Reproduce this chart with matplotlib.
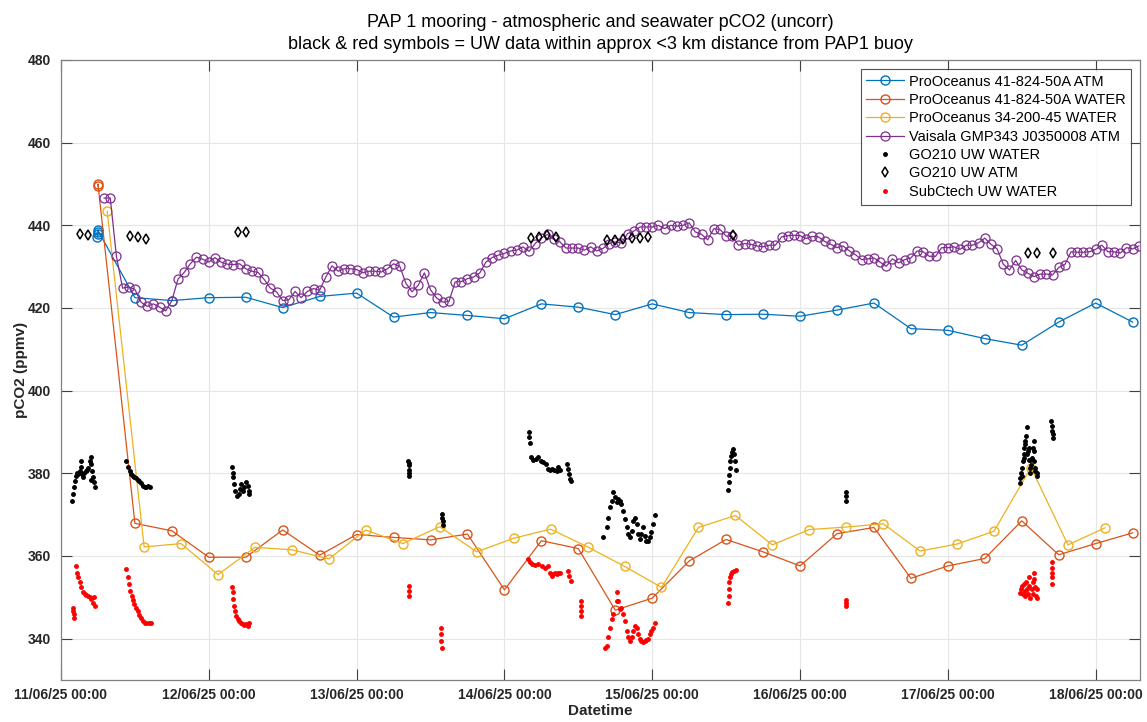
import numpy as np
import matplotlib
matplotlib.use('Agg')
import matplotlib.pyplot as plt
import matplotlib.dates as mdates
from datetime import datetime

plt.rcParams['font.family'] = ['Liberation Sans', 'DejaVu Sans']

# start of the record: 11/06/25 00:00, times below are in days since then
t0 = mdates.date2num(datetime(2025, 6, 11))

# ProOceanus 41-824-50A ATM (6-hourly, first reading is a small burst)
atm_po_days = [0.2465, 0.2480, 0.2495, 0.25, 0.5, 0.75, 1.0, 1.25, 1.5, 1.75, 2.0, 2.25, 2.5,
               2.75, 3.0, 3.25, 3.5, 3.75, 4.0, 4.25, 4.5, 4.75, 5.0, 5.25, 5.5, 5.75,
               6.0, 6.25, 6.5, 6.75, 7.0, 7.25]
atm_po = [437.2, 437.8, 438.4, 438.8, 422.5, 421.8, 422.5, 422.6, 420.1, 422.8, 423.6, 417.8, 418.9,
          418.2, 417.4, 421.0, 420.2, 418.4, 421.0, 418.9, 418.4, 418.5, 418.0, 419.5, 421.2, 415.0,
          414.6, 412.6, 411.0, 416.6, 421.2, 416.6]

# ProOceanus 41-824-50A WATER
wat_po_days = [0.2485, 0.25, 0.5, 0.75, 1.0, 1.25, 1.5, 1.75, 2.0, 2.25, 2.5, 2.75, 3.0, 3.25,
               3.5, 3.75, 4.0, 4.25, 4.5, 4.75, 5.0, 5.25, 5.5, 5.75, 6.0, 6.25, 6.5,
               6.75, 7.0, 7.25]
wat_po = [449.6, 450.0, 367.9, 366.1, 359.7, 359.7, 366.3, 360.2, 365.2, 364.5, 363.9, 365.3, 351.8, 363.7,
          361.8, 346.9, 349.8, 358.8, 364.0, 361.0, 357.6, 365.4, 366.9, 354.6, 357.6, 359.4, 368.5,
          360.3, 363.0, 365.6]

# ProOceanus 34-200-45 WATER (6-hourly from 07:30)
wat_34_start = 0.3125
wat_34 = [443.4, 362.2, 363.0, 355.5, 362.1, 361.5, 359.3, 366.3, 363.0, 367.1, 361.0, 364.3,
          366.5, 362.2, 357.5, 352.4, 366.9, 369.8, 362.7, 366.4, 367.0, 367.8, 361.2, 362.9,
          366.0, 381.4, 362.7, 366.8]

# Vaisala GMP343 J0350008 ATM (hourly from 11/06 07:00)
vai_start_hour = 7
vai = [446.6, 446.6, 432.5, 424.8, 425.1, 424.5, 421.4, 420.4, 421.0, 420.2, 419.3, 421.8,
       427.0, 428.6, 430.7, 432.3, 431.8, 431.1, 432.2, 431.1, 430.6, 430.5, 430.7, 429.5,
       428.9, 428.6, 426.9, 424.8, 423.9, 421.8, 422.0, 424.0, 422.5, 424.0, 424.7, 424.3,
       427.5, 430.2, 428.9, 429.5, 429.5, 429.3, 428.5, 428.9, 428.9, 428.7, 429.5, 430.7,
       430.1, 426.0, 423.9, 425.5, 428.5, 424.4, 422.4, 421.4, 421.6, 426.3, 426.4, 427.1,
       427.5, 428.5, 431.1, 432.2, 432.8, 433.2, 433.8, 434.0, 434.8, 433.7, 435.6, 437.0,
       437.8, 436.6, 436.0, 434.5, 434.5, 434.5, 434.0, 434.8, 433.8, 434.4, 435.6, 436.0,
       435.7, 438.0, 438.6, 439.6, 439.6, 439.6, 440.0, 439.2, 440.0, 439.8, 440.0, 440.6,
       438.4, 437.8, 436.5, 439.2, 439.0, 437.4, 437.3, 435.2, 435.6, 435.4, 435.0, 434.8,
       435.2, 435.2, 437.2, 437.5, 437.6, 437.5, 436.8, 437.3, 437.2, 436.1, 435.4, 434.6,
       435.0, 433.8, 432.9, 431.7, 431.9, 432.1, 431.1, 430.1, 431.9, 430.9, 431.7, 432.1,
       433.8, 433.6, 432.5, 432.5, 434.6, 434.6, 434.8, 434.2, 435.2, 435.2, 435.8, 436.9,
       435.4, 434.3, 430.6, 429.2, 431.5, 429.2, 428.4, 427.6, 428.2, 428.2, 428.0, 429.8,
       430.5, 433.6, 433.5, 433.5, 433.6, 434.2, 435.2, 433.6, 433.6, 433.3, 434.6, 434.3,
       435.0]

# GO210 UW WATER (ship underway, near the buoy)
go_w_days = [0.077, 0.081, 0.086, 0.092, 0.099, 0.108, 0.117, 0.126, 0.133, 0.133, 0.140, 0.149,
             0.158, 0.167, 0.176, 0.185, 0.194, 0.200, 0.205, 0.205, 0.209, 0.216, 0.223, 0.230,
             0.441, 0.452, 0.464, 0.475, 0.486, 0.497, 0.509, 0.520, 0.531, 0.542, 0.554, 0.565,
             0.576, 0.587, 0.599,
             1.156, 1.161, 1.165, 1.172, 1.179, 1.188, 1.201, 1.210, 1.219, 1.228, 1.240, 1.251,
             1.262, 1.269, 1.273,
             2.351, 2.353, 2.353, 2.354, 2.355, 2.356,
             2.580, 2.581, 2.582, 2.583,
             3.167, 3.169, 3.172, 3.181, 3.196, 3.212, 3.230, 3.246, 3.264, 3.280, 3.293, 3.309,
             3.325, 3.338, 3.354, 3.365, 3.376, 3.421, 3.428, 3.437, 3.444, 3.451,
             3.669, 3.691, 3.702, 3.714, 3.725, 3.736, 3.747, 3.759, 3.770, 3.781, 3.792, 3.804,
             3.815, 3.826, 3.837, 3.849, 3.860, 3.871, 3.882, 3.894, 3.905, 3.916, 3.927, 3.939,
             3.950, 3.961, 3.972, 3.984, 3.995, 4.006, 4.017,
             4.514, 4.516, 4.519, 4.523, 4.528, 4.532, 4.537, 4.544, 4.551, 4.557, 4.564,
             5.308, 5.309, 5.310,
             6.486, 6.491, 6.495, 6.502, 6.504, 6.509, 6.514, 6.518, 6.525, 6.532, 6.536, 6.543,
             6.548, 6.554, 6.559, 6.563, 6.570, 6.577, 6.582, 6.586, 6.588, 6.593, 6.600, 6.604,
             6.514, 6.525, 6.536, 6.548, 6.559, 6.582,
             6.700, 6.704, 6.707, 6.709, 6.713]
go_w = [373.4, 375.0, 376.6, 378.2, 379.4, 380.0, 379.8, 380.5, 381.6, 383.0, 379.8, 379.2,
        380.0, 380.6, 380.8, 381.3, 383.1, 384.0, 382.3, 378.5, 380.6, 379.0, 377.8, 376.6,
        382.9, 381.5, 380.5, 379.8, 379.4, 379.0, 378.9, 378.4, 378.1, 377.6, 377.0, 376.6,
        376.8, 377.0, 376.8,
        381.6, 380.2, 379.0, 377.4, 375.8, 374.6, 375.0, 376.2, 377.4, 375.8, 376.6, 377.8,
        377.0, 375.8, 375.0,
        383.1, 381.9, 382.5, 380.7, 380.0, 379.4,
        370.2, 369.3, 368.5, 367.6,
        389.9, 388.7, 387.3, 383.9, 383.2, 383.5, 384.0, 383.1, 382.7, 382.3, 381.1, 380.7,
        381.1, 380.7, 380.5, 381.5, 380.8, 382.3, 381.1, 379.8, 378.6, 378.2,
        364.5, 366.9, 369.3, 371.8, 373.4, 375.4, 374.2, 373.0, 373.8, 373.4, 372.6, 371.0,
        368.9, 366.9, 365.3, 364.5, 366.1, 368.5, 369.3, 367.7, 365.3, 364.1, 365.3, 366.9,
        364.9, 363.7, 363.7, 364.5, 365.7, 367.7, 369.8,
        376.0, 378.0, 379.7, 381.3, 382.9, 384.2, 385.2, 385.8, 384.6, 382.9, 380.9,
        375.4, 374.4, 373.3,
        377.6, 378.9, 380.1, 381.3, 379.3, 382.9, 384.6, 386.2, 387.8, 389.1, 391.1, 385.4,
        383.3, 381.3, 380.1, 382.1, 383.8, 386.2, 387.8, 382.9, 380.5, 381.3, 380.1, 379.3,
        383.8, 387.0, 384.6, 386.2, 383.3, 385.4,
        392.6, 391.5, 390.3, 389.5, 388.6]

# GO210 UW ATM
go_a_days = [0.126, 0.182, 0.464, 0.520, 0.576, 1.199, 1.253, 3.178, 3.235, 3.291, 3.347,
             3.691, 3.748, 3.804, 3.860, 3.916, 3.972, 4.546, 6.543, 6.600, 6.711]
go_a = [438.0, 437.6, 437.4, 437.2, 436.6, 438.3, 438.3, 437.0, 437.2, 437.6, 437.2,
        436.4, 436.4, 436.6, 436.9, 437.0, 437.2, 437.6, 433.4, 433.4, 433.2]

# SubCtech UW WATER
sub_days = [0.081, 0.083, 0.086, 0.088,
            0.104, 0.110, 0.117, 0.126, 0.137, 0.149, 0.160, 0.171, 0.182, 0.194, 0.205, 0.216,
            0.227, 0.223,
            0.441, 0.450, 0.459, 0.468, 0.477, 0.486, 0.497, 0.509, 0.520, 0.531, 0.542, 0.554,
            0.565, 0.576, 0.594, 0.610,
            1.156, 1.161, 1.165, 1.170, 1.174, 1.183, 1.195, 1.206, 1.217, 1.228, 1.240, 1.251,
            1.262, 1.269,
            2.352, 2.353, 2.354,
            2.572, 2.573, 2.574, 2.576,
            3.162, 3.174, 3.185, 3.207, 3.230, 3.253, 3.275, 3.293, 3.309, 3.320, 3.331, 3.343,
            3.354, 3.365, 3.376, 3.428, 3.437, 3.448,
            3.517, 3.518, 3.519, 3.520,
            3.680, 3.691, 3.702, 3.714, 3.725, 3.736, 3.759, 3.765, 3.770, 3.781, 3.792, 3.804,
            3.815, 3.826, 3.837, 3.849, 3.860, 3.871, 3.882, 3.894, 3.905, 3.916, 3.927, 3.939,
            3.950, 3.961, 3.972, 3.984, 3.995, 4.006, 4.017,
            4.514, 4.516, 4.519, 4.521, 4.526, 4.532, 4.541, 4.555, 4.569,
            5.308, 5.309, 5.310,
            6.486, 6.495, 6.502, 6.509, 6.514, 6.520, 6.525, 6.532, 6.536, 6.543, 6.548, 6.552,
            6.559, 6.566, 6.573, 6.577, 6.582, 6.586, 6.591, 6.595, 6.600, 6.604,
            6.706, 6.706, 6.707, 6.707, 6.708]
sub = [347.5, 346.7, 345.9, 345.1,
       357.6, 356.0, 354.8, 353.6, 352.4, 351.4, 350.8, 350.6, 350.3, 350.0, 349.5, 348.7,
       347.9, 350.0,
       356.8, 354.8, 353.2, 351.6, 350.4, 349.3, 348.3, 347.5, 346.7, 345.8, 345.1, 344.3,
       343.9, 343.7, 343.7, 343.7,
       352.5, 351.2, 349.6, 347.9, 346.7, 345.5, 344.7, 344.3, 343.9, 343.5, 343.3, 343.5,
       343.1, 343.7,
       352.8, 351.6, 350.4,
       342.7, 341.1, 339.5, 337.7,
       359.3, 358.5, 358.0, 357.9, 358.0, 357.6, 357.2, 357.6, 356.0, 355.2, 355.6, 356.0,
       355.6, 356.0, 355.8, 356.4, 355.2, 354.0,
       349.2, 348.0, 346.7, 345.5,
       337.8, 338.2, 340.3, 342.7, 344.7, 345.9, 349.2, 351.2, 349.2, 347.1, 347.5, 345.9,
       344.3, 341.9, 340.3, 339.5, 340.3, 341.9, 343.1, 342.7, 341.1, 339.9, 339.5, 339.3,
       339.5, 339.6, 339.9, 341.1, 341.9, 342.7, 343.9,
       348.7, 350.3, 351.9, 353.6, 354.8, 355.6, 356.2, 356.4, 356.7,
       349.3, 348.7, 348.0,
       351.1, 351.9, 352.8, 350.7, 353.2, 351.5, 350.3, 353.6, 351.9, 350.7, 354.8, 352.8,
       349.9, 351.9, 353.6, 350.7, 356.0, 354.4, 352.4, 350.3, 349.9, 351.9,
       358.6, 357.2, 356.0, 354.8, 353.2]

x_end_days = 7.30

# ---------------------------------------------------------------
fig = plt.figure(figsize=(11.47, 7.22), dpi=100)
ax = fig.add_axes([61 / 1147, 42 / 722, 1079 / 1147, 620 / 722])

c_blue, c_orange, c_yellow, c_purple = '#0072BD', '#D95319', '#EDB120', '#7E2F8E'
ms = 6.5

vai_x = t0 + (vai_start_hour + np.arange(len(vai))) / 24.0
w34_x = t0 + wat_34_start + 0.25 * np.arange(len(wat_34))

ax.plot(t0 + np.array(atm_po_days), atm_po, '-o', color=c_blue, mfc='none', ms=ms, lw=0.9,
        mew=1.0, label='ProOceanus 41-824-50A ATM', zorder=3)
ax.plot(t0 + np.array(wat_po_days), wat_po, '-o', color=c_orange, mfc='none', ms=ms, lw=0.9,
        mew=1.0, label='ProOceanus 41-824-50A WATER', zorder=3)
ax.plot(w34_x, wat_34, '-o', color=c_yellow, mfc='none', ms=ms, lw=0.9, mew=1.0,
        label='ProOceanus 34-200-45 WATER', zorder=3)
ax.plot(vai_x, vai, '-o', color=c_purple, mfc='none', ms=ms, lw=0.9, mew=0.9,
        label='Vaisala GMP343 J0350008 ATM', zorder=3)
ax.plot(t0 + np.array(go_w_days), go_w, '.', color='k', ms=5, ls='none',
        label='GO210 UW WATER', zorder=4)
ax.plot(t0 + np.array(go_a_days), go_a, 'd', color='k', mfc='none', ms=5.5, mew=1.1, ls='none',
        label='GO210 UW ATM', zorder=4)
ax.plot(t0 + np.array(sub_days), sub, '.', color='r', ms=5, ls='none',
        label='SubCtech UW WATER', zorder=4)

ax.set_xlim(t0, t0 + x_end_days)
ax.set_ylim(330, 480)
ax.set_yticks(np.arange(340, 481, 20))
ax.xaxis.set_major_locator(mdates.DayLocator())
ax.xaxis.set_major_formatter(mdates.DateFormatter('%d/%m/%y %H:%M'))

ax.grid(True, color='#e6e6e6', lw=0.8)
ax.set_axisbelow(True)
for s in ax.spines.values():
    s.set_color('#808080')
    s.set_linewidth(0.9)
ax.tick_params(direction='in', length=8, width=0.8, color='#404040', top=True, right=True,
               labelsize=10, labelcolor='#262626')
ax.tick_params(axis='x', pad=6)
ax.tick_params(axis='y', pad=7)
for lab in ax.get_xticklabels() + ax.get_yticklabels():
    lab.set_fontweight('bold')

ax.set_xlabel('Datetime', fontsize=11, fontweight='bold', color='#262626', labelpad=1)
ax.set_ylabel('pCO2 (ppmv)', fontsize=11, fontweight='bold', color='#262626', labelpad=0)
ax.set_title('PAP 1 mooring - atmospheric and seawater pCO2 (uncorr)\n'
             'black & red symbols = UW data within approx <3 km distance from PAP1 buoy',
             fontsize=13, linespacing=1.4, pad=8)

leg = ax.legend(loc='upper right', fontsize=10.5, frameon=True, fancybox=False, edgecolor='#262626',
                handlelength=2.6, borderaxespad=0.6, labelspacing=0.3, handletextpad=0.3,
                borderpad=0.4)
leg.get_frame().set_linewidth(0.8)

fig.savefig('out.png', dpi=100)
